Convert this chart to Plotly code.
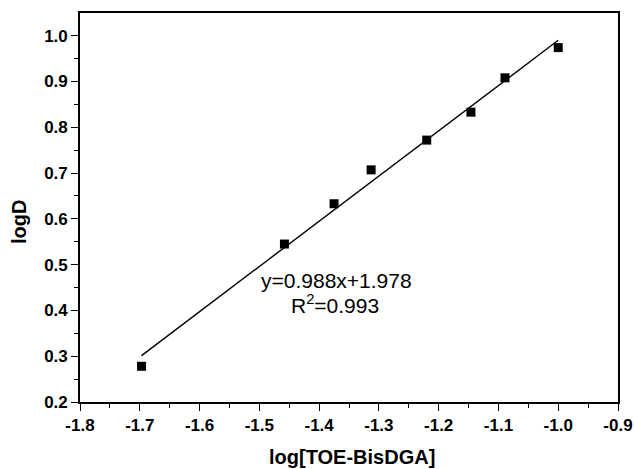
import plotly.graph_objects as go

# data
log_c = [-1.697, -1.458, -1.375, -1.313, -1.220, -1.146, -1.089, -1.000]
log_d = [0.278, 0.545, 0.633, 0.707, 0.772, 0.833, 0.908, 0.974]
slope = 0.988
intercept = 1.978
fit_label = "y=0.988x+1.978"
r2_label = "R<sup>2</sup>=0.993"
x_ticks = [-1.8, -1.7, -1.6, -1.5, -1.4, -1.3, -1.2, -1.1, -1.0, -0.9]
y_ticks = [0.2, 0.3, 0.4, 0.5, 0.6, 0.7, 0.8, 0.9, 1.0]

fit_x = [min(log_c), max(log_c)]
fit_y = [slope * v + intercept for v in fit_x]

FONT = "Arial, Liberation Sans, sans-serif"

fig = go.Figure()
fig.add_trace(go.Scatter(x=fit_x, y=fit_y, mode="lines",
                         line=dict(color="black", width=1.4), showlegend=False))
fig.add_trace(go.Scatter(x=log_c, y=log_d, mode="markers",
                         marker=dict(symbol="square", size=9, color="black"),
                         showlegend=False))

L, R, T, B = 80, 16, 13, 67
W, H = 634, 469
pw, ph = W - L - R, H - T - B

axis_common = dict(
    showgrid=False, zeroline=False, showline=True, linecolor="black", linewidth=1.6,
    mirror=True, ticks="outside", ticklen=7, tickwidth=1.3, tickcolor="black",
    automargin=False,
    tickfont=dict(family=FONT, size=17, color="black", weight="bold"),
)
fig.update_xaxes(range=[-1.8, -0.9], tickmode="array", tickvals=x_ticks,
                 ticktext=[f"{v:.1f}" for v in x_ticks],
                 minor=dict(ticks="outside", ticklen=4, dtick=0.05, tick0=-1.8,
                            tickcolor="black", tickwidth=1.3),
                 **axis_common)
fig.update_yaxes(range=[0.2, 1.0496], tickmode="array", tickvals=y_ticks,
                 ticktext=[f"{v:.1f}" for v in y_ticks],
                 minor=dict(ticks="outside", ticklen=4, dtick=0.05, tick0=0.2,
                            tickcolor="black", tickwidth=1.3),
                 **axis_common)

def px(xp):
    return (xp - L) / pw

def py(yp):
    return (H - B - yp) / ph

ann_font = dict(family=FONT, size=21, color="black")
title_font = dict(family=FONT, size=20, color="black", weight="bold")
fig.update_layout(
    width=W, height=H,
    margin=dict(l=L, r=R, t=T, b=B),
    plot_bgcolor="white", paper_bgcolor="white",
    annotations=[
        dict(text=fit_label, xref="paper", yref="paper", x=px(336), y=py(280),
             xanchor="center", yanchor="middle", showarrow=False, font=ann_font),
        dict(text=r2_label, xref="paper", yref="paper", x=px(335), y=py(304),
             xanchor="center", yanchor="middle", showarrow=False, font=ann_font),
        dict(text="log[TOE-BisDGA]", xref="paper", yref="paper", x=px(352), y=py(457),
             xanchor="center", yanchor="middle", showarrow=False, font=title_font),
        dict(text="logD", xref="paper", yref="paper", x=px(19), y=py(222),
             xanchor="center", yanchor="middle", showarrow=False, textangle=-90,
             font=title_font),
    ],
)

fig.write_html("out.html")
